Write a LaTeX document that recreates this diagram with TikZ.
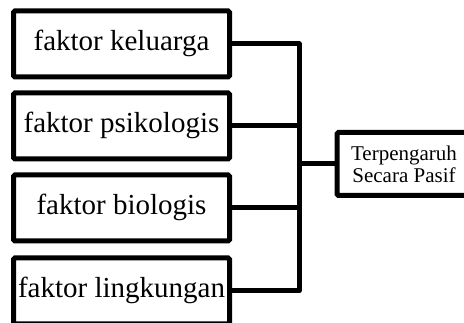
\documentclass[tikz,border=0pt]{standalone}
\usepackage{fontspec}
\setmainfont{Liberation Serif}
\begin{document}
\begin{tikzpicture}[x=1pt,y=-1pt,
  line width=5pt,
  factorbox/.style={draw, rectangle, rounded corners=1.5pt, inner sep=0pt,
    minimum width=216pt, minimum height=66pt,
    font=\fontsize{29}{34}\selectfont, text height=20pt, text depth=6pt},
  resultbox/.style={draw, rectangle, rounded corners=1.5pt, inner sep=0pt,
    minimum width=170pt, minimum height=63pt, anchor=west},
  resulttext/.style={align=center, inner sep=0pt,
    font=\fontsize{21}{22}\selectfont},
  link/.style={line join=round}]
\useasboundingbox (0,0) rectangle (464,323);
\node[factorbox] (b1) at (121.5,44) {faktor keluarga};
\node[factorbox] (b2) at (121.5,126) {faktor psikologis};
\node[factorbox] (b3) at (121.5,208) {faktor biologis};
\node[factorbox] (b4) at (121.5,291) {faktor lingkungan};
\node[resultbox, label={[resulttext, xshift=-18pt]center:Terpengaruh\\Secara Pasif}] (r) at (334.5,164) {};
\coordinate (bt) at (299,44);
\coordinate (bb) at (299,291);
\draw[link] (b1.east) -- (bt) -- (bb) -- (b4.east);
\draw[link] (b2.east) -- (b2.east -| bt);
\draw[link] (b3.east) -- (b3.east -| bt);
\draw[link] (r.west) -- (r.west -| bt);
\end{tikzpicture}
\end{document}
